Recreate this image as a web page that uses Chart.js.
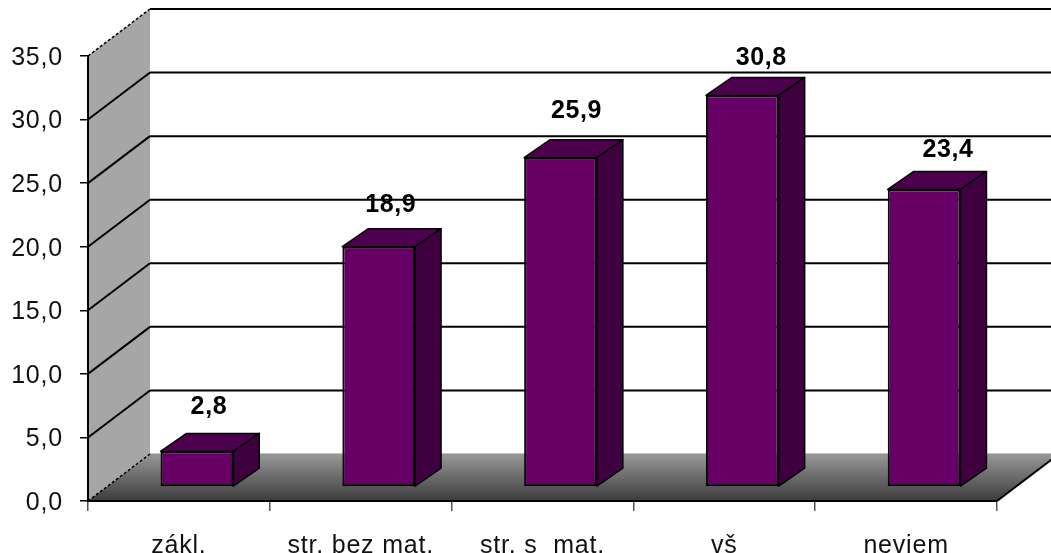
<!DOCTYPE html>
<html>
<head>
<meta charset="utf-8">
<style>
  html, body { margin: 0; padding: 0; background: #fff; overflow: hidden; }
  canvas { display: block; }
</style>
</head>
<body>
<canvas id="chart" width="1051" height="553"></canvas>
<script src="https://cdn.jsdelivr.net/npm/chart.js@4/dist/chart.umd.min.js"></script>
<script>
const categories = ["zákl.", "str. bez mat.", "str. s  mat.", "vš", "neviem"];
const values = [2.8, 18.9, 25.9, 30.8, 23.4];
const yMax = 35;
const yStep = 5;

// fake 3D offsets, px
const WALL = { dx: 62, dy: -47 };
const BAR_SHIFT = { dx: 18, dy: -14 };
const BAR_DEPTH = { dx: 26, dy: -18 };
// label nudges from the bar's front top centre
const LABEL_DX = [12, 12, 16, 19, 24];
const LABEL_DY = [44, 42, 47, 37, 39];

const FONT = "'Liberation Sans', Arial, sans-serif";
const fmt = (v) => v.toFixed(1).replace(".", ",");

function poly(ctx, pts, fill, stroke, width) {
  ctx.beginPath();
  pts.forEach((p, i) => (i ? ctx.lineTo(p[0], p[1]) : ctx.moveTo(p[0], p[1])));
  ctx.closePath();
  if (fill) {
    ctx.fillStyle = fill;
    ctx.fill();
  }
  if (stroke) {
    ctx.strokeStyle = stroke;
    ctx.lineWidth = width || 1;
    ctx.stroke();
  }
}

function seg(ctx, x1, y1, x2, y2, color, width, dash) {
  ctx.beginPath();
  ctx.setLineDash(dash || []);
  ctx.moveTo(x1, y1);
  ctx.lineTo(x2, y2);
  ctx.strokeStyle = color;
  ctx.lineWidth = width;
  ctx.stroke();
  ctx.setLineDash([]);
}

const walls = {
  id: "walls",
  beforeDraw(chart) {
    const { ctx, chartArea: a, scales } = chart;
    const y = scales.y;
    const l = a.left, r = a.right, t = a.top, b = a.bottom;
    // the reference text is stretched wide, spacing gets close to that
    ctx.letterSpacing = "0.8px";
    ctx.save();
    // side wall
    poly(ctx, [[l, b], [l + WALL.dx, b + WALL.dy], [l + WALL.dx, t + WALL.dy], [l, t]], "#a6a6a6");
    // floor
    const g = ctx.createLinearGradient(0, b + WALL.dy, 0, b);
    g.addColorStop(0, "#989898");
    g.addColorStop(1, "#3c3c3c");
    poly(ctx, [[l, b], [r, b], [r + WALL.dx, b + WALL.dy], [l + WALL.dx, b + WALL.dy]], g);
    seg(ctx, l + WALL.dx, b + WALL.dy, r + WALL.dx, b + WALL.dy, "#8c8c8c", 1);
    seg(ctx, r, b, r + WALL.dx, b + WALL.dy, "#000", 2);
    seg(ctx, l, b, l + WALL.dx, b + WALL.dy, "#000", 1.5, [3, 2]);
    // grid lines
    y.ticks.forEach((tk) => {
      if (tk.value === 0) return;
      const py = y.getPixelForValue(tk.value);
      const top = tk.value === yMax;
      seg(ctx, l, py, l + WALL.dx, py + WALL.dy, "#000", top ? 1.5 : 2, top ? [3, 2] : null);
      seg(ctx, l + WALL.dx, py + WALL.dy, chart.width, py + WALL.dy, "#000", 2);
    });
    ctx.restore();
  },
  beforeDatasetsDraw(chart) {
    const { ctx } = chart;
    const els = chart.getDatasetMeta(0).data;
    ctx.save();
    ctx.lineJoin = "round";
    els.forEach((bar) => {
      const w = bar.width / 2;
      const x1 = bar.x - w + BAR_SHIFT.dx, x2 = bar.x + w + BAR_SHIFT.dx;
      const top = bar.y + BAR_SHIFT.dy, bot = bar.base + BAR_SHIFT.dy;
      poly(ctx, [[x1, top], [x2, top], [x2 + BAR_DEPTH.dx, top + BAR_DEPTH.dy], [x1 + BAR_DEPTH.dx, top + BAR_DEPTH.dy]], "#4d004d", "#000", 1.5);
      poly(ctx, [[x2, top], [x2 + BAR_DEPTH.dx, top + BAR_DEPTH.dy], [x2 + BAR_DEPTH.dx, bot + BAR_DEPTH.dy], [x2, bot]], "#3f003f", "#000", 1.5);
    });
    ctx.restore();
    // shift the library's own bars onto the front plane
    ctx.save();
    ctx.translate(BAR_SHIFT.dx, BAR_SHIFT.dy);
  },
  afterDatasetsDraw(chart) {
    const { ctx } = chart;
    ctx.restore();
    const els = chart.getDatasetMeta(0).data;
    ctx.save();
    ctx.fillStyle = "#000";
    ctx.font = "bold 25px " + FONT;
    ctx.letterSpacing = "0.6px";
    ctx.textAlign = "center";
    ctx.textBaseline = "middle";
    els.forEach((bar, i) => {
      ctx.fillText(fmt(values[i]), bar.x + BAR_SHIFT.dx + LABEL_DX[i], bar.y + BAR_SHIFT.dy - LABEL_DY[i]);
    });
    ctx.restore();
  }
};

new Chart(document.getElementById("chart"), {
  type: "bar",
  data: {
    labels: categories,
    datasets: [{
      data: values,
      backgroundColor: "#660066",
      borderColor: "#000",
      borderWidth: 2,
      borderSkipped: false,
      barPercentage: 0.4,
      categoryPercentage: 1,
      clip: false
    }]
  },
  plugins: [walls],
  options: {
    responsive: false,
    animation: false,
    events: [],
    layout: { padding: { top: 56, right: 54, left: 0, bottom: 0 } },
    plugins: { legend: { display: false }, tooltip: { enabled: false } },
    scales: {
      x: {
        offset: true,
        afterFit: (s) => { s.height = 52; },
        grid: { offset: true, drawOnChartArea: false, color: "#555", tickLength: 10, lineWidth: 1.5 },
        border: { color: "#000", width: 2 },
        ticks: {
          color: "#111",
          font: { family: FONT, size: 25 },
          padding: 20,
          maxRotation: 0,
          autoSkip: false
        }
      },
      y: {
        min: 0,
        max: yMax,
        afterFit: (s) => { s.width = 88; },
        grid: { drawOnChartArea: false, color: "#000", tickLength: 8, lineWidth: 1.5 },
        border: { color: "#000", width: 2 },
        ticks: {
          stepSize: yStep,
          color: "#111",
          font: { family: FONT, size: 25 },
          padding: 17,
          labelOffset: 2,
          callback: (v) => fmt(v)
        }
      }
    }
  }
});
</script>
</body>
</html>
